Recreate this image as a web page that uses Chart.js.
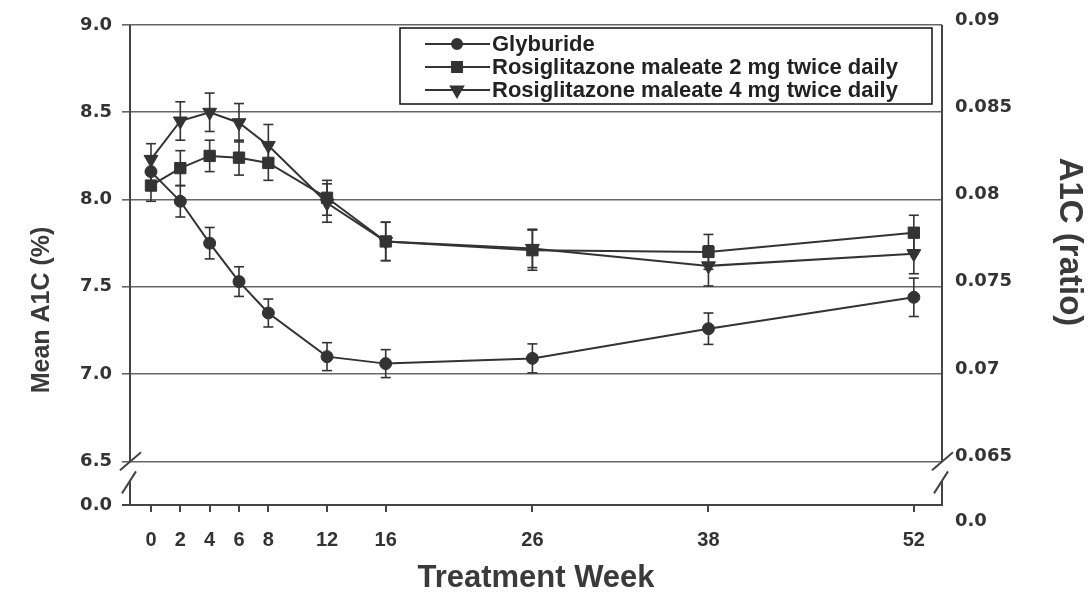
<!DOCTYPE html>
<html><head><meta charset="utf-8">
<script src="https://cdn.jsdelivr.net/npm/chart.js@4.4.1/dist/chart.umd.min.js"></script>
<style>html,body{margin:0;padding:0;background:#fff}#wrap{width:1092px;height:594px;position:relative}</style>
</head><body><div id="wrap"><canvas id="c"></canvas></div>
<script>
// ---- data ----
const weeks = [0, 2, 4, 6, 8, 12, 16, 26, 38, 52];
const glyburide    = [8.16, 7.99, 7.75, 7.53, 7.35, 7.10, 7.06, 7.09, 7.26, 7.44];
const glyburideErr = [0.09, 0.09, 0.09, 0.085, 0.08, 0.08, 0.08, 0.083, 0.09, 0.11];
const rosi2        = [8.08, 8.18, 8.25, 8.24, 8.21, 8.01, 7.76, 7.71, 7.70, 7.81];
const rosi2Err     = [0.09, 0.10, 0.09, 0.10, 0.10, 0.10, 0.11, 0.115, 0.10, 0.10];
const rosi4        = [8.23, 8.45, 8.50, 8.44, 8.31, 7.98, 7.76, 7.72, 7.62, 7.69];
const rosi4Err     = [0.09, 0.11, 0.11, 0.11, 0.12, 0.11, 0.11, 0.11, 0.115, 0.115];
// left axis ticks (6.25 is where the broken axis shows 0.0)
const leftTicks       = [6.25, 6.5, 7.0, 7.5, 8.0, 8.5, 9.0];
const leftTickLabels  = ['0.0', '6.5', '7.0', '7.5', '8.0', '8.5', '9.0'];
const rightTickLabels = ['0.0', '0.065', '0.07', '0.075', '0.08', '0.085', '0.09'];
const seriesNames = ['Glyburide', 'Rosiglitazone maleate 2 mg twice daily', 'Rosiglitazone maleate 4 mg twice daily'];
const xTitle = 'Treatment Week';
const yTitle = 'Mean A1C (%)';
const y2Title = 'A1C (ratio)';

const FONT = '"Liberation Sans", Arial, Helvetica, sans-serif';
const TFONT = '"DejaVu Sans", "Liberation Sans", sans-serif';
Chart.defaults.font.family = FONT;
const INK = '#333';
const GRID = '#666';

const errs = [glyburideErr, rosi2Err, rosi4Err];
const styles = [
  {pointStyle: 'circle', radius: 6, rotation: 0, lr: 5},
  {pointStyle: 'rect', radius: 8, rotation: 0, lr: 7},
  {pointStyle: 'triangle', radius: 8, rotation: 180, lr: 7}
];
const series = [glyburide, rosi2, rosi4];
const datasets = series.map((vals, i) => ({
  label: seriesNames[i],
  data: weeks.map((w, j) => ({x: w, y: vals[j]})),
  borderColor: INK, backgroundColor: INK, borderWidth: 2,
  pointStyle: styles[i].pointStyle, pointRadius: styles[i].radius, rotation: styles[i].rotation,
  pointBackgroundColor: INK, pointBorderColor: INK, pointBorderWidth: 1,
  tension: 0, fill: false
}));

function lineTo(ctx, x1, y1, x2, y2) { ctx.beginPath(); ctx.moveTo(x1, y1); ctx.lineTo(x2, y2); ctx.stroke(); }

const decor = {
  id: 'decor',
  beforeDatasetsDraw(chart) {
    const ctx = chart.ctx, xs = chart.scales.x, ys = chart.scales.y, a = chart.chartArea;
    ctx.save();
    // error bars
    ctx.strokeStyle = INK; ctx.lineWidth = 1.6;
    chart.data.datasets.forEach((ds, i) => {
      ds.data.forEach((p, j) => {
        const x = xs.getPixelForValue(p.x);
        const t = ys.getPixelForValue(p.y + errs[i][j]);
        const b = ys.getPixelForValue(p.y - errs[i][j]);
        lineTo(ctx, x, t, x, b);
        lineTo(ctx, x - 5, t, x + 5, t);
        lineTo(ctx, x - 5, b, x + 5, b);
      });
    });
    // axis lines with breaks
    const y65 = ys.getPixelForValue(6.5), yb = a.bottom, yt = a.top;
    ctx.strokeStyle = '#444'; ctx.lineWidth = 2;
    [a.left, a.right].forEach(ax => {
      lineTo(ctx, ax, yt, ax, y65);
      lineTo(ctx, ax - 10, y65 + 9, ax + 11, y65 - 9);
      lineTo(ctx, ax - 8, y65 + 32, ax + 6, y65 + 10);
      lineTo(ctx, ax, y65 + 20, ax, yb);
    });
    lineTo(ctx, a.left - 8, yb, a.right + 1, yb);
    ctx.restore();
  },
  afterDraw(chart) {
    const ctx = chart.ctx, a = chart.chartArea;
    ctx.save();
    // axis titles
    ctx.fillStyle = '#3a3a3a';
    ctx.textAlign = 'center'; ctx.textBaseline = 'middle';
    ctx.font = 'bold 31px ' + FONT;
    ctx.fillText(xTitle, (a.left + a.right) / 2, 578);
    ctx.save(); ctx.translate(42, 310); ctx.rotate(-Math.PI / 2);
    ctx.font = 'bold 25px ' + FONT; ctx.fillText(yTitle, 0, 0); ctx.restore();
    ctx.save(); ctx.translate(1069, 242); ctx.rotate(Math.PI / 2);
    ctx.font = 'bold 33px ' + FONT; ctx.fillText(y2Title, 0, 0); ctx.restore();
    // legend
    const bx = 400, by = 28, bw = 532, bh = 76;
    ctx.fillStyle = '#fff'; ctx.fillRect(bx, by, bw, bh);
    ctx.strokeStyle = '#111'; ctx.lineWidth = 1.5; ctx.strokeRect(bx, by, bw, bh);
    const rows = [44, 67, 90];
    ctx.font = 'bold 22px ' + FONT; ctx.textAlign = 'left'; ctx.textBaseline = 'middle';
    rows.forEach((ry, i) => {
      ctx.strokeStyle = INK; ctx.lineWidth = 2;
      lineTo(ctx, 425, ry, 490, ry);
      Chart.helpers.drawPoint(ctx, {pointStyle: styles[i].pointStyle, radius: styles[i].lr, rotation: styles[i].rotation, borderWidth: 1}, 457, ry);
      ctx.fillStyle = INK; ctx.fill();
      ctx.fillStyle = '#222';
      ctx.fillText(seriesNames[i], 492, ry + 1);
    });
    ctx.restore();
  }
};

new Chart(document.getElementById('c'), {
  type: 'line',
  data: {datasets},
  options: {
    responsive: true, maintainAspectRatio: false, animation: false, events: [],
    layout: {padding: {top: 25, left: 0, right: 0, bottom: 0}},
    plugins: {legend: {display: false}, tooltip: {enabled: false}},
    scales: {
      x: {
        type: 'linear', min: -1.43, max: 53.92,
        afterBuildTicks: s => { s.ticks = weeks.map(v => ({value: v})); },
        afterFit: s => { s.height = 89; },
        border: {display: false},
        grid: {drawOnChartArea: false, drawTicks: true, tickLength: 7, color: '#444', lineWidth: 2},
        ticks: {autoSkip: false, maxRotation: 0, padding: 16, color: INK, font: {size: 20, weight: 'bold'}}
      },
      y: {
        type: 'linear', position: 'left', min: 6.25, max: 9.0,
        afterBuildTicks: s => { s.ticks = leftTicks.map(v => ({value: v})); },
        afterFit: s => { s.width = 130; },
        border: {display: false},
        grid: {color: GRID, lineWidth: 1.6, tickLength: 8, drawTicks: true},
        ticks: {padding: 10, color: INK, font: {family: TFONT, size: 18, weight: 'bold'},
          callback: (v) => leftTickLabels[leftTicks.indexOf(v)]}
      },
      y2: {
        type: 'linear', position: 'right', min: 6.25, max: 9.0,
        afterBuildTicks: s => { s.ticks = leftTicks.map(v => ({value: v})); },
        afterFit: s => { s.width = 150; },
        border: {display: false},
        grid: {drawOnChartArea: false, drawTicks: false},
        ticks: {padding: 13, labelOffset: -5, color: INK, font: {family: TFONT, size: 18, weight: 'bold'},
          callback: (v) => { const l = rightTickLabels[leftTicks.indexOf(v)]; return v === 6.25 ? ['', '', l] : l; }}
      }
    }
  },
  plugins: [decor]
});
</script>
</body></html>
